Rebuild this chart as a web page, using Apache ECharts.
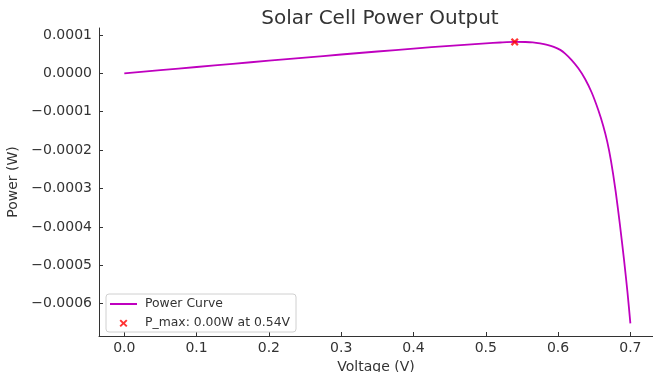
<!DOCTYPE html>
<html>
<head>
<meta charset="utf-8">
<script src="https://cdn.jsdelivr.net/npm/echarts@6/dist/echarts.min.js"></script>
<style>html,body{margin:0;padding:0;background:#fff}#c{width:653px;height:372px}</style>
</head>
<body>
<div id="c"></div>
<script>
// Voltage samples (V)
const voltage = [0, 0.05, 0.10, 0.15, 0.20, 0.25, 0.30, 0.35, 0.40, 0.45, 0.48, 0.50, 0.52, 0.54,
  0.555, 0.565, 0.575, 0.585, 0.594, 0.603, 0.6094, 0.6188, 0.628, 0.6372, 0.6465, 0.6556,
  0.6625, 0.668, 0.6732, 0.6797, 0.6856, 0.6912, 0.6961, 0.700];
// Power (W)
const power = [0, 8.3e-6, 16.5e-6, 24.7e-6, 32.9e-6, 41.0e-6, 49.0e-6, 56.8e-6, 64.4e-6, 71.6e-6,
  75.6e-6, 78.0e-6, 80.2e-6, 81.8e-6, 81.5e-6, 80.6e-6, 78.1e-6, 74.3e-6, 69.0e-6, 61.0e-6,
  52.0e-6, 34.6e-6, 13.0e-6, -14.0e-6, -50.0e-6, -95.6e-6, -137.0e-6, -178.0e-6, -228.0e-6,
  -308.0e-6, -395.0e-6, -485.0e-6, -572.0e-6, -651.0e-6];
// Maximum power point
const pmaxPoint = [0.54, 81.8e-6];
const pmaxLabel = 'P_max: 0.00W at 0.54V';
const curveLabel = 'Power Curve';
// Tick values
const xTicks = [0, 0.1, 0.2, 0.3, 0.4, 0.5, 0.6, 0.7];
const yTicks = [-0.0006, -0.0005, -0.0004, -0.0003, -0.0002, -0.0001, 0, 0.0001];

const FONT = 'DejaVu Sans';
const TXT = '#333';
const lineData = voltage.map((v, i) => [v, power[i]]);
const xMark = 'path://M2,0 L5,3 L8,0 L10,2 L7,5 L10,8 L8,10 L5,7 L2,10 L0,8 L3,5 L0,2 Z';
// legend icons laid out in a 27x8 box (tiny corner specks fix the bounding box)
const lineIcon = 'path://M0,0 L0.01,0 L0,0.01 Z M27,8 L26.99,8 L27,7.99 Z M0,3.1 L27,3.1 L27,4.9 L0,4.9 Z';
const xIcon = 'path://M0,0 L0.01,0 L0,0.01 Z M27,8 L26.99,8 L27,7.99 Z ' +
  'M10.9,0.5 L13.5,3.1 L16.1,0.5 L17.5,1.9 L14.9,4.5 L17.5,7.1 L16.1,8.5 L13.5,5.9 L10.9,8.5 L9.5,7.1 L12.1,4.5 L9.5,1.9 Z';

const chart = echarts.init(document.getElementById('c'), null, {renderer: 'canvas'});
chart.setOption({
  animation: false,
  backgroundColor: '#fff',
  title: {
    text: 'Solar Cell Power Output',
    left: 375, top: 4, textAlign: 'center',
    textStyle: {fontFamily: FONT, fontSize: 20, fontWeight: 'normal', color: TXT}
  },
  grid: {left: 99, right: 0, top: 28, bottom: 36, containLabel: false, outerBoundsMode: 'none'},
  xAxis: {
    type: 'value', min: -0.035, max: 0.7313,
    name: 'Voltage (V)', nameLocation: 'middle', nameGap: 17,
    nameTextStyle: {fontFamily: FONT, fontSize: 14, color: TXT},
    axisLine: {show: true, onZero: false, lineStyle: {color: '#333', width: 1}},
    axisTick: {show: true, inside: true, length: 4, customValues: xTicks, lineStyle: {color: '#333'}},
    axisLabel: {fontFamily: FONT, fontSize: 14, color: TXT, margin: 5, customValues: xTicks,
      formatter: v => v.toFixed(1)},
    splitLine: {show: false}
  },
  yAxis: {
    type: 'value', min: -0.000684, max: 0.000118,
    name: 'Power (W)', nameLocation: 'middle', nameGap: 76, nameRotate: 90,
    nameTextStyle: {fontFamily: FONT, fontSize: 14, color: TXT},
    axisLine: {show: true, onZero: false, lineStyle: {color: '#333', width: 1}},
    axisTick: {show: true, inside: true, length: 4, customValues: yTicks, lineStyle: {color: '#333'}},
    axisLabel: {fontFamily: FONT, fontSize: 14, color: TXT, margin: 7, customValues: yTicks,
      formatter: v => v.toFixed(4).replace('-', '\u2212')},
    splitLine: {show: false}
  },
  legend: {
    orient: 'vertical', left: 106, top: 294,
    padding: [4, 6, 3, 4], itemGap: 7, itemWidth: 27, itemHeight: 8,
    symbolKeepAspect: false,
    borderColor: '#d0d0d0', borderWidth: 1, borderRadius: 3, backgroundColor: 'rgba(255,255,255,0.8)',
    textStyle: {fontFamily: FONT, fontSize: 12.4, color: TXT, padding: [0, 0, 0, 3]},
    data: [
      {name: curveLabel, icon: lineIcon, itemStyle: {color: '#bf00bf'}},
      {name: pmaxLabel, icon: xIcon, itemStyle: {color: '#ff0000'}}
    ]
  },
  series: [
    {
      name: curveLabel, type: 'line', data: lineData, symbol: 'none', smooth: 0.25,
      lineStyle: {color: '#bf00bf', width: 1.8}, itemStyle: {color: '#bf00bf'}, z: 2
    },
    {
      name: pmaxLabel, type: 'scatter', data: [pmaxPoint], symbol: xMark, symbolSize: 8,
      itemStyle: {color: '#ff0000'}, z: 3
    }
  ]
});
</script>
</body>
</html>
